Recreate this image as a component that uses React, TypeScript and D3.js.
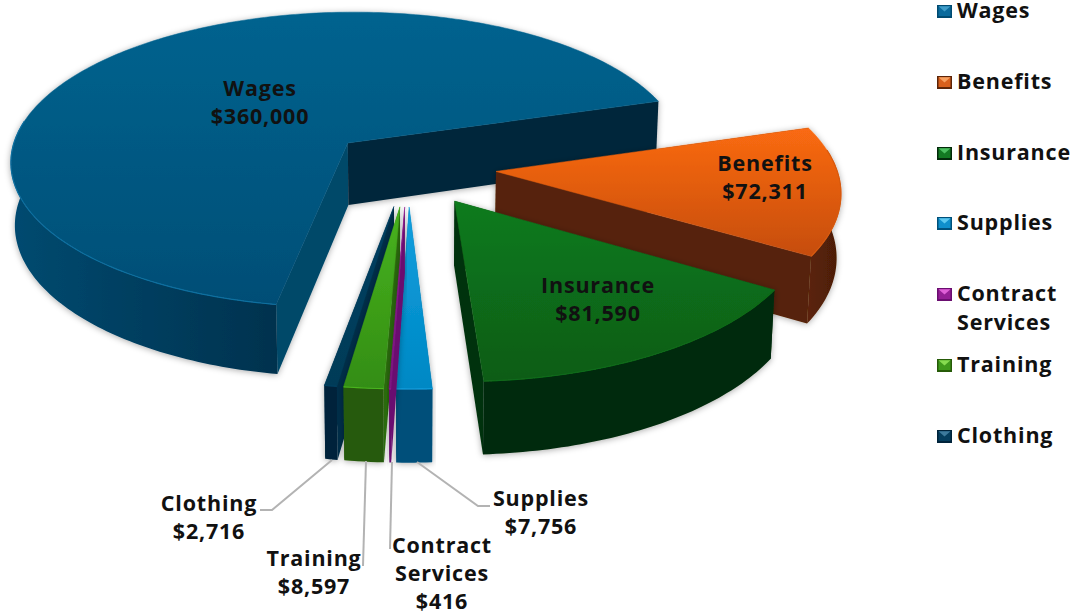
import React from "react";
import * as d3 from "d3";

const categories = ["Wages", "Benefits", "Insurance", "Supplies", "Contract Services", "Training", "Clothing"];
const values = [360000, 72311, 81590, 7756, 416, 8597, 2716];
const legendLines = [["Wages"], ["Benefits"], ["Insurance"], ["Supplies"], ["Contract", "Services"], ["Training"], ["Clothing"]];
const labelLines = [["Wages"], ["Benefits"], ["Insurance"], ["Supplies"], ["Contract", "Services"], ["Training"], ["Clothing"]];

// layout only
const SECOND_SLICE_DEG = -17.2;
const explode = [0.24, 0.26, 0.26, 0.26, 0.26, 0.26, 0.26];
const CX = 408, CY = 166.5, RX = 340, RY = 151, PERSP = 0.115, DEPTH = 63;
const labelPos = [[260, 96], [765, 171], [598, 293], [541, 506], [442, 553], [314, 566], [209, 511]];
const legendY = [10, 81, 152, 222, 293, 364, 435];
const leaderBends: (number[][] | null)[] = [null, null, null, [[478, 506], [490, 506]], [[390, 549]], [[363, 566]], [[272, 510], [260, 510]]];
const leaderStart = [null, null, null, [417, 462], [392, 462], [366, 461], [332, 460]];
const palette = [
  { t0: "#03638f", t1: "#014e76", wall0: "#004a70", wall1: "#00324e", a: "#034869", b: "#00263a", key: "#0a6a9c", hi: "#3f9cc8", rim: "#0d6f9f" },
  { t0: "#fa6a12", t1: "#c64d0c", wall0: "#5c2408", wall1: "#4a1d06", a: "#562407", b: "#562407", key: "#d9601c", hi: "#f7a060", rim: "#d85a0e" },
  { t0: "#107b1d", t1: "#0a5c17", wall0: "#03290a", wall1: "#032a09", a: "#04330d", b: "#04330d", key: "#137a22", hi: "#4cc060", rim: "#0b6a1a" },
  { t0: "#0f9fdf", t1: "#0088c4", wall0: "#00507a", wall1: "#00507a", a: "#00507a", b: "#00507a", key: "#0f8fcc", hi: "#5cc8f0", rim: "#0f9fdf" },
  { t0: "#8f1d90", t1: "#7a1280", wall0: "#6a0e70", wall1: "#6a0e70", a: "#6a0e70", b: "#6a0e70", key: "#951f96", hi: "#e060d8", rim: "#8f1d90" },
  { t0: "#48b41f", t1: "#338d13", wall0: "#265a08", wall1: "#265a08", a: "#2c6a0c", b: "#2c6a0c", key: "#3f9a1c", hi: "#86dc50", rim: "#48b41f" },
  { t0: "#003f60", t1: "#003b58", wall0: "#00233a", wall1: "#00233a", a: "#002f48", b: "#002f48", key: "#053e5e", hi: "#3d7a9c", rim: "#003f60" },
];

const FONT = "'Open Sans', sans-serif";
const rad = (d: number) => (d * Math.PI) / 180;

const wagesTurn = (2 * Math.PI * values[0]) / (d3.sum(values) as number);
const pieGen = d3
  .pie<number>()
  .sort(null)
  .startAngle(rad(SECOND_SLICE_DEG) - wagesTurn)
  .endAngle(rad(SECOND_SLICE_DEG) - wagesTurn + 2 * Math.PI);
const arcs = pieGen(values);

function project(x: number, y: number, z = 0): [number, number] {
  const k = 1 / (1 - PERSP * y);
  const s = z ? 0.99 : 1;
  return [CX + RX * x * k * s, CY + RY * y * k + z * DEPTH * k];
}
const line = d3.line();

function Slice({ i }: { i: number }) {
  const a = arcs[i];
  const p = palette[i];
  const m = (a.startAngle + a.endAngle) / 2;
  const ox = explode[i] * Math.cos(m), oy = explode[i] * Math.sin(m);
  const n = Math.max(2, Math.ceil(((a.endAngle - a.startAngle) * 180) / Math.PI));
  const angles = d3.range(n + 1).map((j) => a.startAngle + ((a.endAngle - a.startAngle) * j) / n);
  const rim = (t: number, z: number) => project(ox + Math.cos(t), oy + Math.sin(t), z);
  const apex = project(ox, oy, 0), apexB = project(ox, oy, 1);
  const top = [apex, ...angles.map((t) => rim(t, 0))];
  const visible = angles.filter((t) => Math.sin(t) > -0.16);
  const wall = [...visible.map((t) => rim(t, 0)), ...visible.slice().reverse().map((t) => rim(t, 1))];
  const startWall = [apex, rim(a.startAngle, 0), rim(a.startAngle, 1), apexB];
  const endWall = [apex, rim(a.endAngle, 0), rim(a.endAngle, 1), apexB];
  const ys = top.map((d) => d[1]);
  const xs = wall.map((d) => d[0]);
  return (
    <g filter="url(#soft)">
      <defs>
        <linearGradient id={`top${i}`} gradientUnits="userSpaceOnUse" x1="0" x2="0" y1={d3.min(ys)} y2={d3.max(ys)}>
          <stop offset="0" stopColor={p.t0} />
          <stop offset="1" stopColor={p.t1} />
        </linearGradient>
        <linearGradient id={`wall${i}`} gradientUnits="userSpaceOnUse" y1="0" y2="0" x1={d3.min(xs) ?? 0} x2={d3.max(xs) ?? 1}>
          <stop offset="0" stopColor={p.wall0} />
          <stop offset="1" stopColor={p.wall1} />
        </linearGradient>
      </defs>
      <path d={line(startWall as any) + "Z"} fill={p.a} />
      <path d={line(endWall as any) + "Z"} fill={p.b} />
      {visible.length > 1 && <path d={line(wall as any) + "Z"} fill={`url(#wall${i})`} />}
      <path d={line(top as any) + "Z"} fill={`url(#top${i})`} stroke={`url(#top${i})`} strokeWidth={0.5} />
      {visible.length > 1 && <path d={line(visible.map((t) => rim(t, 0)) as any)!} fill="none" stroke={p.rim} strokeWidth={1.2} />}
    </g>
  );
}

function LegendKey({ i, y }: { i: number; y: number }) {
  const p = palette[i];
  const x0 = 937, x1 = 952, y0 = y - 6, y1 = y + 7;
  const keyX = d3.scaleLinear().domain([0, 1]).range([x0, x1]);
  const keyY = d3.scaleLinear().domain([0, 1]).range([y0, y1]);
  return (
    <g>
      <rect x={x0} y={y0} width={x1 - x0} height={y1 - y0} fill={p.wall0} />
      <rect x={keyX(0.1)} y={keyY(0.1)} width={keyX(0.9) - keyX(0.1)} height={keyY(0.85) - keyY(0.1)} fill={p.key} />
      <path d={line([[keyX(0.1), keyY(0.1)], [keyX(0.9), keyY(0.1)], [keyX(0.5), keyY(0.5)]])! + "Z"} fill={p.hi} />
    </g>
  );
}

const drawOrder = [0, 1, 2, 6, 5, 3, 4];

export default function App() {
  return (
    <svg width={1076} height={614} style={{ position: "absolute", left: 0, top: 0, background: "#fff" }} fontFamily={FONT}>
      <defs>
        <filter id="soft" x="-10%" y="-10%" width="120%" height="125%">
          <feDropShadow dx="0" dy="1" stdDeviation="3" floodColor="#000" floodOpacity="0.33" />
        </filter>
      </defs>
      {drawOrder.map((i) => (
        <Slice key={i} i={i} />
      ))}
      <g fill="none" stroke="#b3b3b3" strokeWidth={2}>
        {categories.map((c, i) =>
          leaderStart[i] ? (
            <path key={c} d={line([leaderStart[i] as any, ...(leaderBends[i] as any)])!} />
          ) : null
        )}
      </g>
      <g fontSize={21.5} fontWeight={700} letterSpacing={0.8} fill="#111" textAnchor="middle">
        {categories.map((c, i) => {
          const lines = [...labelLines[i], d3.format("$,")(values[i])];
          return (
            <text key={c} x={labelPos[i][0]} y={labelPos[i][1]}>
              {lines.map((s, j) => (
                <tspan key={j} x={labelPos[i][0]} dy={j === 0 ? 0 : 28}>
                  {s}
                </tspan>
              ))}
            </text>
          );
        })}
      </g>
      <g fontSize={21.5} fontWeight={700} letterSpacing={0.8} fill="#111">
        {categories.map((c, i) => (
          <g key={c}>
            <LegendKey i={i} y={legendY[i] + 1} />
            <text x={957} y={legendY[i] + 8}>
              {legendLines[i].map((s, j) => (
                <tspan key={j} x={957} dy={j === 0 ? 0 : 29}>
                  {s}
                </tspan>
              ))}
            </text>
          </g>
        ))}
      </g>
    </svg>
  );
}
